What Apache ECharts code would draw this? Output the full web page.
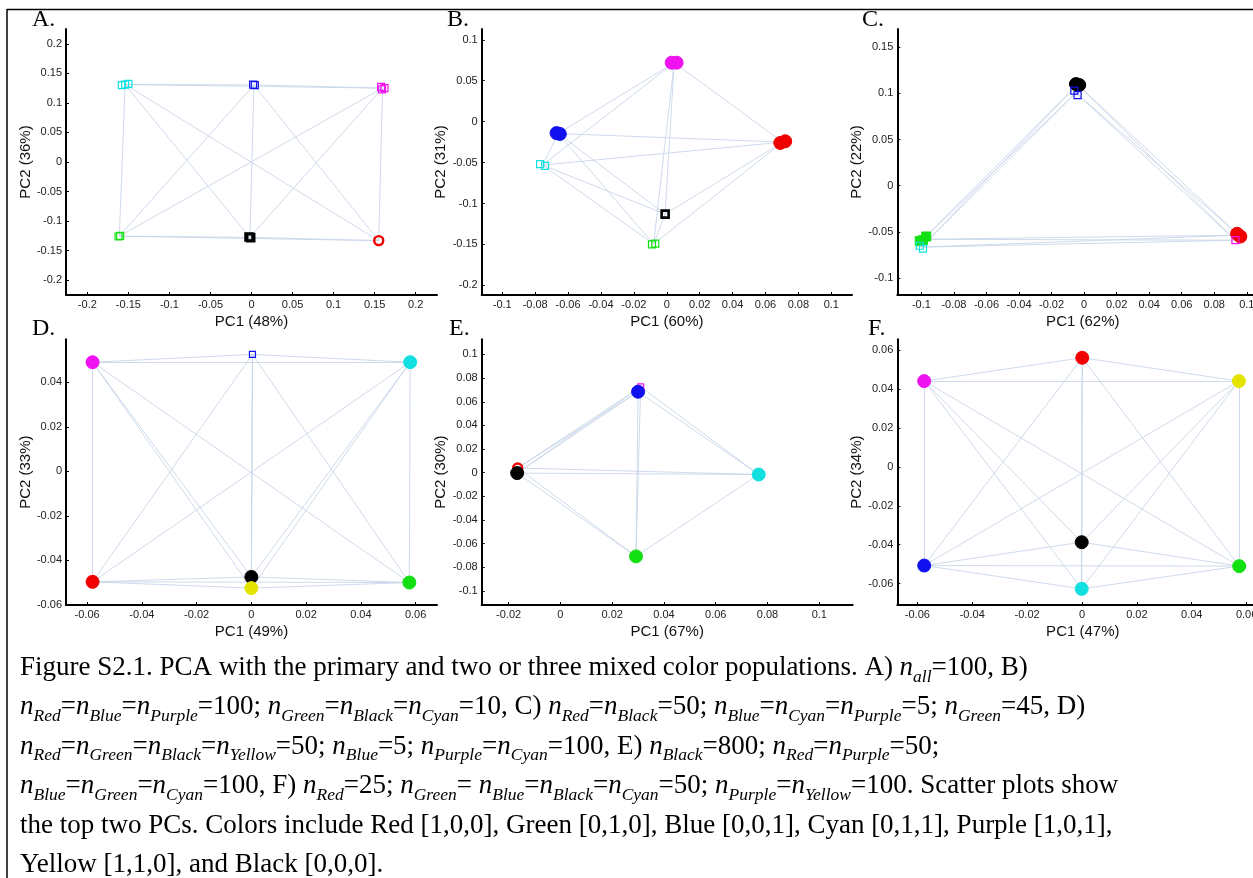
<!DOCTYPE html>
<html><head><meta charset="utf-8">
<script src="https://cdn.jsdelivr.net/npm/echarts@6/dist/echarts.min.js"></script>
<style>html,body{margin:0;padding:0;background:#fff}#c{width:1253px;height:878px}</style>
</head><body><div id="c"></div>
<script>
// ---------- DATA ----------
const A_colors = ['Cyan','Blue','Purple','Green','Black','Red'];
const A_pc1 = [[-0.158,-0.154,-0.150],[0.002,0.004],[0.158,0.162,0.159],[-0.162,-0.160],[-0.003,-0.001],[0.155]];
const A_pc2 = [[0.130,0.131,0.132],[0.131,0.130],[0.127,0.125,0.123],[-0.126,-0.125],[-0.127,-0.128],[-0.133]];
const A_xticks = [-0.2,-0.15,-0.1,-0.05,0,0.05,0.1,0.15,0.2];
const A_yticks = [-0.2,-0.15,-0.1,-0.05,0,0.05,0.1,0.15,0.2];

const B_colors = ['Purple','Red','Blue','Cyan','Black','Green'];
const B_pc1 = [[0.003,0.006],[0.069,0.072],[-0.067,-0.065],[-0.077,-0.074],[-0.001],[-0.009,-0.007]];
const B_pc2 = [[0.072,0.072],[-0.026,-0.024],[-0.014,-0.015],[-0.052,-0.054],[-0.113],[-0.150,-0.149]];
const B_xticks = [-0.1,-0.08,-0.06,-0.04,-0.02,0,0.02,0.04,0.06,0.08,0.1];
const B_yticks = [-0.2,-0.15,-0.1,-0.05,0,0.05,0.1];

const C_colors = ['Black','Blue','Red','Purple','Green','Cyan'];
const C_pc1 = [[-0.005,-0.003],[-0.006,-0.004],[0.094,0.096],[0.093],[-0.101,-0.099,-0.097],[-0.101,-0.099]];
const C_pc2 = [[0.110,0.109],[0.103,0.098],[-0.052,-0.055],[-0.059],[-0.060,-0.059,-0.055],[-0.065,-0.068]];
const C_xticks = [-0.1,-0.08,-0.06,-0.04,-0.02,0,0.02,0.04,0.06,0.08,0.1];
const C_yticks = [-0.1,-0.05,0,0.05,0.1,0.15];

const D_colors = ['Purple','Blue','Cyan','Red','Black','Yellow','Green'];
const D_pc1 = [[-0.058],[0.0004],[0.058],[-0.058],[0.0],[0.0],[0.0577]];
const D_pc2 = [[0.049],[0.0525],[0.049],[-0.0497],[-0.0475],[-0.0525],[-0.050]];
const D_xticks = [-0.06,-0.04,-0.02,0,0.02,0.04,0.06];
const D_yticks = [-0.06,-0.04,-0.02,0,0.02,0.04];

const E_colors = ['Purple','Blue','Red','Black','Cyan','Green'];
const E_pc1 = [[0.031],[0.030],[-0.0165],[-0.0167],[0.0766],[0.0292]];
const E_pc2 = [[0.0725],[0.0685],[0.004],[-0.0003],[-0.0015],[-0.0707]];
const E_xticks = [-0.02,0,0.02,0.04,0.06,0.08,0.1];
const E_yticks = [-0.1,-0.08,-0.06,-0.04,-0.02,0,0.02,0.04,0.06,0.08,0.1];

const F_colors = ['Red','Purple','Yellow','Black','Blue','Cyan','Green'];
const F_pc1 = [[0.0001],[-0.0575],[0.0572],[-0.0001],[-0.0575],[-0.0001],[0.0573]];
const F_pc2 = [[0.0562],[0.0442],[0.0442],[-0.0387],[-0.0507],[-0.0627],[-0.051]];
const F_xticks = [-0.06,-0.04,-0.02,0,0.02,0.04,0.06];
const F_yticks = [-0.06,-0.04,-0.02,0,0.02,0.04,0.06];

const xNames = ['PC1 (48%)','PC1 (60%)','PC1 (62%)','PC1 (49%)','PC1 (67%)','PC1 (47%)'];
const yNames = ['PC2 (36%)','PC2 (31%)','PC2 (22%)','PC2 (33%)','PC2 (30%)','PC2 (34%)'];
const letters = ['A.','B.','C.','D.','E.','F.'];

// ---------- STYLES / LAYOUT ----------
const colorHex = {Red:'#f00000',Green:'#12e012',Blue:'#1010f0',Cyan:'#12e0e0',Purple:'#f012f0',Yellow:'#e4e400',Black:'#000000'};
const markA = ['sq','sq','sq','sq','sqb','circ'];
const markB = ['blob','blob','blob','sq','sqb','sq'];
const markC = ['blob','sq','blob','sq','sqf','sq'];
const markD = ['blob','sqs','blob','blob','blob','blob','blob'];
const markE = ['sqs','blob','circ','blob','blob','blob'];
const markF = ['blob','blob','blob','blob','blob','blob','blob'];

const panels = [
  {c:A_colors,x:A_pc1,y:A_pc2,xt:A_xticks,yt:A_yticks,m:markA,xr:[-0.226,0.226],yr:[-0.225,0.225],g:[66,29,371,266]},
  {c:B_colors,x:B_pc1,y:B_pc2,xt:B_xticks,yt:B_yticks,m:markB,xr:[-0.1125,0.1126],yr:[-0.2118,0.1132],g:[481.7,29,370.3,266]},
  {c:C_colors,x:C_pc1,y:C_pc2,xt:C_xticks,yt:C_yticks,m:markC,xr:[-0.1148,0.1132],yr:[-0.1183,0.1696],g:[897.3,29,371,266]},
  {c:D_colors,x:D_pc1,y:D_pc2,xt:D_xticks,yt:D_yticks,m:markD,xr:[-0.0677,0.0678],yr:[-0.0601,0.0593],g:[66,339.3,371,265.7]},
  {c:E_colors,x:E_pc1,y:E_pc2,xt:E_xticks,yt:E_yticks,m:markE,xr:[-0.0304,0.1129],yr:[-0.1118,0.1128],g:[481.7,339.3,371,265.7]},
  {c:F_colors,x:F_pc1,y:F_pc2,xt:F_xticks,yt:F_yticks,m:markF,xr:[-0.0673,0.0679],yr:[-0.0710,0.0657],g:[897.3,339.3,371,265.7]}
];
const letterPos = [[32,20],[447,20],[862,20],[32,329],[449,329],[868,329]];

const markStyle = {
  sq:  {symbol:'rect',size:7,fill:false,bw:1.2},
  sqs: {symbol:'rect',size:6,fill:false,bw:1.2},
  sqb: {symbol:'rect',size:7,fill:false,bw:2.6},
  sqf: {symbol:'rect',size:9,fill:true,bw:1},
  circ:{symbol:'circle',size:9,fill:false,bw:2.4},
  blob:{symbol:'circle',size:13,fill:true,bw:1}
};

const fmt = v => String(+(+v).toFixed(4));
const grids=[], xAxes=[], yAxes=[], series=[];
panels.forEach((p,i)=>{
  grids.push({left:p.g[0],top:p.g[1],width:p.g[2],height:p.g[3],containLabel:false,outerBoundsMode:'none'});
  const axCommon = {
    type:'value', gridIndex:i, splitLine:{show:false},
    axisLine:{show:true,onZero:false,lineStyle:{color:'#000',width:2}},
    axisTick:{show:true,inside:true,length:3,lineStyle:{color:'#000',width:1}},
    axisLabel:{show:true,margin:4,color:'#222',fontSize:11,fontFamily:'Liberation Sans, Arial',formatter:fmt},
    nameLocation:'middle',
    nameTextStyle:{fontSize:15,color:'#111',fontFamily:'Liberation Sans, Arial'}
  };
  xAxes.push(Object.assign({},axCommon,{
    min:p.xr[0],max:p.xr[1],name:xNames[i],nameGap:19,
    axisTick:Object.assign({},axCommon.axisTick,{customValues:p.xt}),
    axisLabel:Object.assign({},axCommon.axisLabel,{customValues:p.xt})
  }));
  yAxes.push(Object.assign({},axCommon,{
    min:p.yr[0],max:p.yr[1],name:yNames[i],nameGap:31,
    axisTick:Object.assign({},axCommon.axisTick,{customValues:p.yt}),
    axisLabel:Object.assign({},axCommon.axisLabel,{customValues:p.yt})
  }));
  const centers = p.c.map((_,k)=>{
    const xs=p.x[k], ys=p.y[k];
    return [xs.reduce((a,b)=>a+b,0)/xs.length, ys.reduce((a,b)=>a+b,0)/ys.length];
  });
  const links=[];
  for(let a=0;a<centers.length;a++) for(let b=a+1;b<centers.length;b++) links.push({coords:[centers[a],centers[b]]});
  series.push({type:'lines',coordinateSystem:'cartesian2d',xAxisIndex:i,yAxisIndex:i,silent:true,z:1,
    lineStyle:{color:'#c9d6e9',width:1,opacity:0.9,curveness:0},data:links});
  p.c.forEach((col,k)=>{
    const ms = markStyle[p.m[k]];
    const pts = p.x[k].map((xv,j)=>[xv,p.y[k][j]]);
    series.push({type:'scatter',xAxisIndex:i,yAxisIndex:i,z:3,silent:true,
      symbol:ms.symbol,symbolSize:ms.size,
      itemStyle:{color:ms.fill?colorHex[col]:'rgba(255,255,255,0)',borderColor:colorHex[col],borderWidth:ms.bw,opacity:1},
      data:pts});
  });
});

// caption
const capLines = [
  'Figure S2.1. PCA with the primary and two or three mixed color populations. A) {n|n}{s|all}=100, B)',
  '{n|n}{s|Red}={n|n}{s|Blue}={n|n}{s|Purple}=100; {n|n}{s|Green}={n|n}{s|Black}={n|n}{s|Cyan}=10, C) {n|n}{s|Red}={n|n}{s|Black}=50; {n|n}{s|Blue}={n|n}{s|Cyan}={n|n}{s|Purple}=5; {n|n}{s|Green}=45, D)',
  '{n|n}{s|Red}={n|n}{s|Green}={n|n}{s|Black}={n|n}{s|Yellow}=50; {n|n}{s|Blue}=5; {n|n}{s|Purple}={n|n}{s|Cyan}=100, E) {n|n}{s|Black}=800; {n|n}{s|Red}={n|n}{s|Purple}=50;',
  '{n|n}{s|Blue}={n|n}{s|Green}={n|n}{s|Cyan}=100, F) {n|n}{s|Red}=25; {n|n}{s|Green}= {n|n}{s|Blue}={n|n}{s|Black}={n|n}{s|Cyan}=50; {n|n}{s|Purple}={n|n}{s|Yellow}=100. Scatter plots show',
  'the top two PCs. Colors include Red [1,0,0], Green [0,1,0], Blue [0,0,1], Cyan [0,1,1], Purple [1,0,1],',
  'Yellow [1,1,0], and Black [0,0,0].'
];
const serif = 'Liberation Serif, Times New Roman, serif';
const graphics = [];
capLines.forEach((t,i)=>{
  graphics.push({type:'text',left:20,top:650+i*39.4,silent:true,
    style:{text:t,fontFamily:serif,fontSize:27,fill:'#000',lineHeight:36,
      rich:{n:{fontFamily:serif,fontSize:27,fontStyle:'italic',lineHeight:36},
            s:{fontFamily:serif,fontSize:17.5,fontStyle:'italic',lineHeight:24,verticalAlign:'bottom'}}}});
});
letters.forEach((l,i)=>{
  graphics.push({type:'text',x:letterPos[i][0],y:letterPos[i][1],silent:true,
    style:{text:l,fontFamily:serif,fontSize:24,fill:'#000',verticalAlign:'middle',align:'left'}});
});
graphics.push({type:'line',silent:true,shape:{x1:7,y1:9.5,x2:1253,y2:9.5},style:{stroke:'#000',lineWidth:1.5}});
graphics.push({type:'line',silent:true,shape:{x1:7,y1:9,x2:7,y2:878},style:{stroke:'#000',lineWidth:1.5}});

const chart = echarts.init(document.getElementById('c'),null,{renderer:'canvas'});
chart.setOption({animation:false,backgroundColor:'#fff',grid:grids,xAxis:xAxes,yAxis:yAxes,series:series,graphic:graphics});
</script></body></html>
